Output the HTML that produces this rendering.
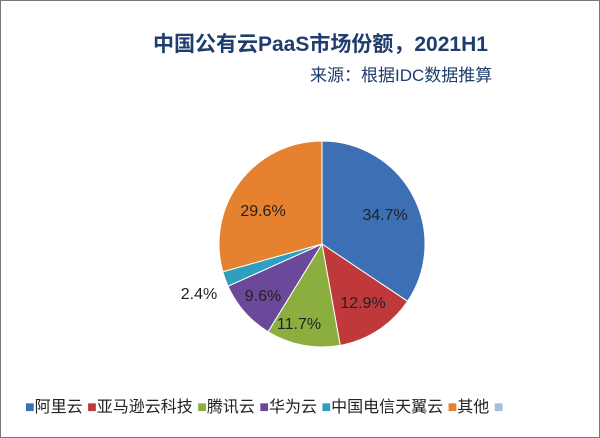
<!DOCTYPE html>
<html><head><meta charset="utf-8"><style>
body{margin:0;background:#fff}
#c{position:relative;width:598px;height:436px;border:1px solid #777;background:#fff;font-family:"Liberation Sans","Noto Sans CJK SC",sans-serif;overflow:hidden}
.t{position:absolute;white-space:nowrap}
</style></head><body><div id="c">
<div class="t" style="left:152px;top:27px;font-size:21px;font-weight:bold;color:#1f3d6e">中国公有云PaaS市场份额，2021H1</div>
<div class="t" style="left:309px;top:60px;font-size:17px;color:#1f3d6e">来源：根据IDC数据推算</div>
<svg id="s" width="598" height="436" style="position:absolute;left:0;top:0"></svg>
<div class="t" style="left:24px;top:397px;font-size:16px;color:#222;line-height:20px">
<span style="color:#3d6fb5">■</span>阿里云 <span style="color:#c0393a">■</span>亚马逊云科技 <span style="color:#8bae3f">■</span>腾讯云 <span style="color:#6c489a">■</span>华为云 <span style="color:#2f9fc0">■</span>中国电信天翼云 <span style="color:#e6812f">■</span>其他 <span style="color:#a3bde3">■</span></div>
</div>
<script>
var d=[[34.7,"#3d6fb5"],[12.9,"#c0393a"],[11.7,"#8bae3f"],[9.6,"#6c489a"],[2.4,"#2f9fc0"],[29.6,"#e6812f"]];
var cx=321,cy=243,r=103,tot=100.9,a=0,h="";
function p(t){return [cx+r*Math.sin(t),cy-r*Math.cos(t)];}
d.forEach(function(x){var b=a+x[0]/tot*2*Math.PI,s=p(a),e=p(b);
h+='<path d="M'+cx+' '+cy+'L'+s[0]+' '+s[1]+'A'+r+' '+r+' 0 '+((b-a)>Math.PI?1:0)+' 1 '+e[0]+' '+e[1]+'Z" fill="'+x[1]+'" stroke="#fff" stroke-width="1"/>';a=b;});
var L=[["34.7%",384,219],["12.9%",362,307],["11.7%",298,328],["9.6%",262,300],["2.4%",198,298],["29.6%",262,215]];
L.forEach(function(l){h+='<text x="'+l[1]+'" y="'+l[2]+'" text-anchor="middle" font-size="16" fill="#222" font-family="Liberation Sans, sans-serif">'+l[0]+'</text>';});
document.getElementById("s").innerHTML=h;
</script>
</body></html>
